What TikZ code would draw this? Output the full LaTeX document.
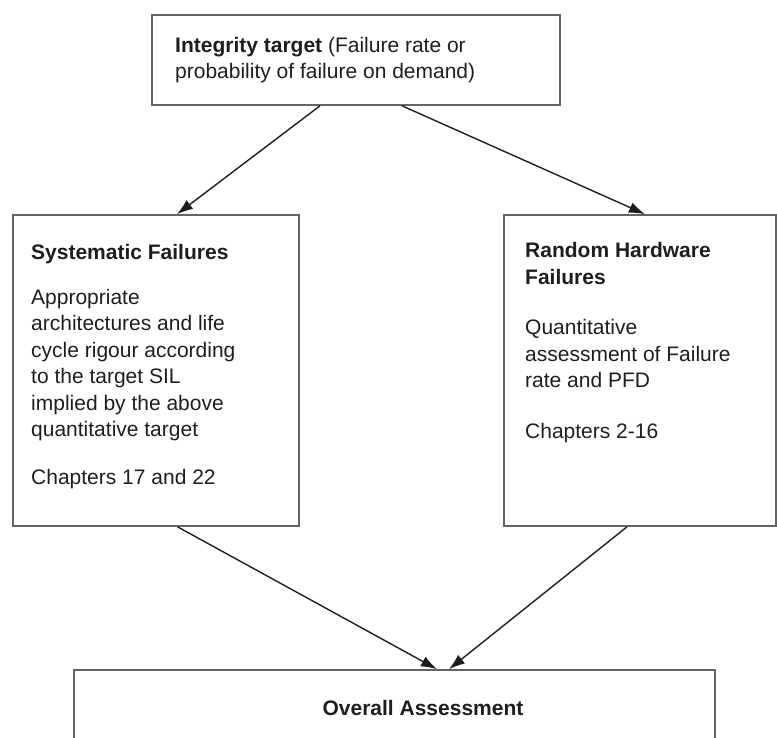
\documentclass[tikz,border=0pt]{standalone}
\usepackage{fontspec}
\setmainfont{Liberation Sans}
\usetikzlibrary{arrows.meta}

\definecolor{boxgray}{RGB}{100,100,100}
\definecolor{inkgray}{RGB}{30,30,30}

\begin{document}
\begin{tikzpicture}[x=1pt, y=-1pt,
  box/.style={draw=boxgray, line width=1.6pt, inner sep=0pt},
  txt/.style={anchor=north west, inner sep=0pt, align=left, text=inkgray,
    font=\fontsize{21}{26.5}\selectfont},
  arr/.style={-{Latex[length=16pt, width=11pt]}, line width=1.4pt, draw=inkgray}]

\useasboundingbox ( 0, 0 ) rectangle ( 777, 738 );
\clip ( 0, 0 ) rectangle ( 777, 738 );

% Integrity target
\node (target) at ( 356, 60 ) [box, minimum width=408, minimum height=90] {};
\node (targetText) at ( 175, 37 ) [txt] {\textbf{Integrity target} (Failure rate or\\probability of failure on demand)};

% Systematic failures
\node (sys) at ( 156, 370.5 ) [box, minimum width=286, minimum height=311] {};
\node (sysText) at ( 31, 244.5 ) [txt] {\textbf{Systematic Failures}\\[18pt]
  Appropriate\\architectures and life\\cycle rigour according\\to the target SIL\\implied by the above\\quantitative target\\[21pt]
  Chapters 17 and 22};

% Random hardware failures
\node (rnd) at ( 640, 370.5 ) [box, minimum width=272, minimum height=311] {};
\node (rndText) at ( 525, 242.5 ) [txt] {\textbf{Random Hardware}\\\textbf{Failures}\\[24pt]
  Quantitative\\assessment of Failure\\rate and PFD\\[24pt]
  Chapters 2-16};

% Overall assessment (cut off at the bottom)
\node (overall) at ( 394.5, 720 ) [box, minimum width=641, minimum height=100] {};
\node (overallText) at ( 423, 708 ) [txt, anchor=center] {\textbf{Overall Assessment}};

% Arrows
\draw [arr] ([xshift=-36]target.south) -- ([xshift=21]sys.north);
\draw [arr] ([xshift=46]target.south) -- ([xshift=5]rnd.north);
\draw [arr] ([xshift=21.5]sys.south) -- ([xshift=42.5]overall.north);
\draw [arr] ([xshift=-13]rnd.south) -- ([xshift=54.5]overall.north);

\end{tikzpicture}
\end{document}
